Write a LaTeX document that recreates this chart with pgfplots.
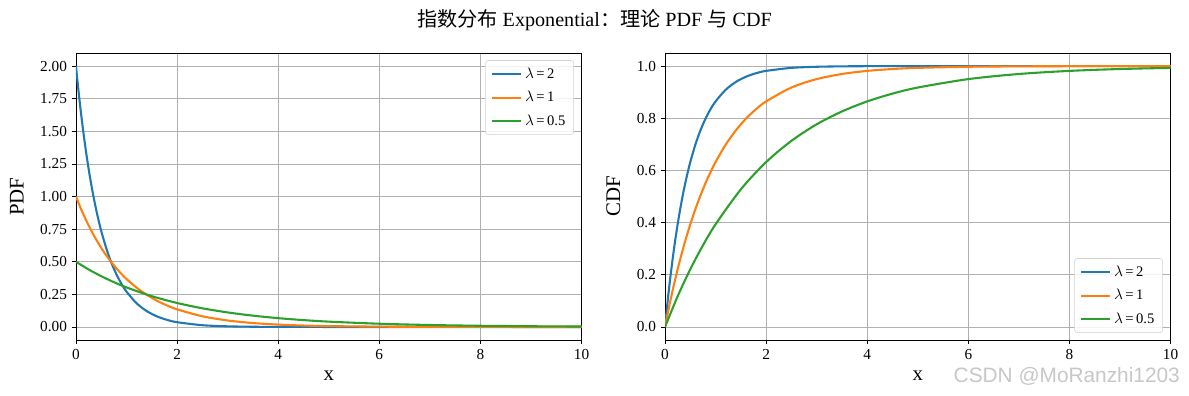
\documentclass[border=0pt]{standalone}
\usepackage{fontspec}
\setmainfont{Liberation Serif}
\newfontfamily\cjk{Noto Sans CJK SC}
\newfontfamily\wm{Liberation Sans}
\usepackage{pgfplots}
\pgfplotsset{compat=1.18}
\definecolor{c1}{HTML}{1F77B4}
\definecolor{c2}{HTML}{FF7F0E}
\definecolor{c3}{HTML}{2CA02C}
\definecolor{gridc}{HTML}{B0B0B0}
\pgfplotsset{
  myax/.style={
    scale only axis, width=364pt, height=206.6pt, anchor=south west,
    xmin=0, xmax=10, xtick={0,2,4,6,8,10},
    grid=major, major grid style={gridc, line width=0.6pt},
    axis line style={black, line width=0.6pt},
    tick style={black, line width=0.6pt}, tick align=outside, major tick length=3pt,
    xtick pos=bottom, ytick pos=left,
    tick label style={font=\fontsize{11}{12}\selectfont},
    /pgf/number format/assume math mode=true,
    label style={font=\fontsize{15}{16}\selectfont},
    xlabel style={yshift=-1.5pt},
    ylabel style={yshift=5pt},
    legend style={font=\fontsize{10.5}{12}\selectfont, draw=gray!35, rounded corners=2pt, fill=white, fill opacity=0.85, text opacity=1, inner xsep=4pt, inner ysep=3pt, row sep=4pt, at={(0.985,0.975)}, anchor=north east},
    legend cell align=left,
    legend image code/.code={\draw[#1, line width=1.5pt] (0pt,0pt) -- (21pt,0pt);},
    every axis plot/.append style={line width=1.5pt, smooth, no marks},
  }
}
\begin{document}
\begin{tikzpicture}
\path[use as bounding box] (0,0) rectangle (856.08pt,285.12pt);
\begin{axis}[myax, at={(54.7pt,40.3pt)},
  ymin=-0.1, ymax=2.1, ytick={0,0.25,...,2.0},
  yticklabel style={/pgf/number format/.cd, fixed, fixed zerofill, precision=2},
  xlabel={x}, ylabel={PDF}]
\addplot[c1] coordinates {(0,2) (0.05,1.8097) (0.1,1.6375) (0.15,1.4816) (0.2,1.3406) (0.25,1.2131) (0.3,1.0976) (0.35,0.9932) (0.4,0.8987) (0.45,0.8131) (0.5,0.7358) (0.6,0.6024) (0.7,0.4932) (0.8,0.4038) (0.9,0.3306) (1.0,0.2707) (1.2,0.1814) (1.4,0.1216) (1.6,0.0815) (1.8,0.0546) (2.0,0.0366) (2.5,0.0135) (3,0.0050) (3.5,0.0018) (4,0.0007) (5,0.0001) (6,0) (8,0) (10,0)};
\addlegendentry{$\lambda$\,=\,2}
\addplot[c2] coordinates {(0,1) (0.1,0.9048) (0.2,0.8187) (0.3,0.7408) (0.4,0.6703) (0.5,0.6065) (0.6,0.5488) (0.7,0.4966) (0.8,0.4493) (0.9,0.4066) (1.0,0.3679) (1.2,0.3012) (1.4,0.2466) (1.6,0.2019) (1.8,0.1653) (2.0,0.1353) (2.5,0.0821) (3,0.0498) (3.5,0.0302) (4,0.0183) (4.5,0.0111) (5,0.0067) (6,0.0025) (7,0.0009) (8,0.0003) (9,0.0001) (10,0.00005)};
\addlegendentry{$\lambda$\,=\,1}
\addplot[c3] coordinates {(0,0.5) (0.25,0.4412) (0.5,0.3894) (0.75,0.3436) (1,0.3033) (1.5,0.2362) (2,0.1839) (2.5,0.1433) (3,0.1116) (3.5,0.0869) (4,0.0677) (4.5,0.0527) (5,0.0410) (6,0.0249) (7,0.0151) (8,0.0092) (9,0.0056) (10,0.0034)};
\addlegendentry{$\lambda$\,=\,0.5}
\end{axis}
\begin{axis}[myax, at={(478.8pt,40.3pt)},
  ymin=-0.05, ymax=1.05, ytick={0,0.2,...,1.0},
  yticklabel style={/pgf/number format/.cd, fixed, fixed zerofill, precision=1},
  xlabel={x}, ylabel={CDF},
  legend style={at={(0.985,0.025)}, anchor=south east}]
\addplot[c1] coordinates {(0,0) (0.05,0.0952) (0.1,0.1813) (0.15,0.2592) (0.2,0.3297) (0.25,0.3935) (0.3,0.4512) (0.35,0.5034) (0.4,0.5507) (0.45,0.5934) (0.5,0.6321) (0.6,0.6988) (0.7,0.7534) (0.8,0.7981) (0.9,0.8347) (1.0,0.8647) (1.2,0.9093) (1.4,0.9392) (1.6,0.9592) (1.8,0.9727) (2.0,0.9817) (2.5,0.9933) (3,0.9975) (3.5,0.9991) (4,0.9997) (5,1.0) (6,1) (8,1) (10,1)};
\addlegendentry{$\lambda$\,=\,2}
\addplot[c2] coordinates {(0,0) (0.1,0.0952) (0.2,0.1813) (0.3,0.2592) (0.4,0.3297) (0.5,0.3935) (0.6,0.4512) (0.7,0.5034) (0.8,0.5507) (0.9,0.5934) (1.0,0.6321) (1.2,0.6988) (1.4,0.7534) (1.6,0.7981) (1.8,0.8347) (2.0,0.8647) (2.5,0.9179) (3,0.9502) (3.5,0.9698) (4,0.9817) (4.5,0.9889) (5,0.9933) (6,0.9975) (7,0.9991) (8,0.9997) (9,0.9999) (10,1.0)};
\addlegendentry{$\lambda$\,=\,1}
\addplot[c3] coordinates {(0,0) (0.25,0.1175) (0.5,0.2212) (0.75,0.3127) (1,0.3935) (1.5,0.5276) (2,0.6321) (2.5,0.7135) (3,0.7769) (3.5,0.8262) (4,0.8647) (4.5,0.8946) (5,0.9179) (6,0.9502) (7,0.9698) (8,0.9817) (9,0.9889) (10,0.9933)};
\addlegendentry{$\lambda$\,=\,0.5}
\end{axis}
\node[font=\fontsize{14.5}{16}\selectfont] at (428pt,270.5pt) {{\cjk 指数分布} Exponential{\cjk ：理论} PDF {\cjk 与} CDF};
\node[font=\wm\fontsize{15}{16}\selectfont, text=black!22, anchor=east] at (853pt,14pt) {CSDN @MoRanzhi1203};
\end{tikzpicture}
\end{document}
